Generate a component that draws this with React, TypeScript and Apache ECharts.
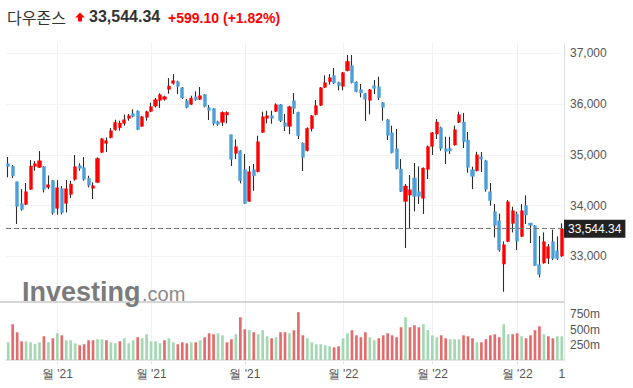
import { useEffect, useRef } from 'react';
import * as echarts from 'echarts';

const titleName = '다우존스';
const lastPrice = 33544.34;
const priceChange = 599.1;
const priceChangePct = 1.82;

const tradingMonths = ['2021-09', '2021-10', '2021-11', '2021-12', '2022-01', '2022-02', '2022-03'];
const tradingDays = [
  [16, 17, 20, 21, 22, 23, 24, 27, 28, 29, 30],
  [1, 4, 5, 6, 7, 8, 11, 12, 13, 14, 15, 18, 19, 20, 21, 22, 25, 26, 27, 28, 29],
  [1, 2, 3, 4, 5, 8, 9, 10, 11, 12, 15, 16, 17, 18, 19, 22, 23, 24, 26, 29, 30],
  [1, 2, 3, 6, 7, 8, 9, 10, 13, 14, 15, 16, 17, 20, 21, 22, 23, 27, 28, 29, 30, 31],
  [3, 4, 5, 6, 7, 10, 11, 12, 13, 14, 18, 19, 20, 21, 24, 25, 26, 27, 28, 31],
  [1, 2, 3, 4, 7, 8, 9, 10, 11, 14, 15, 16, 17, 18, 22, 23, 24, 25, 28],
  [1, 2, 3, 4, 7, 8, 9, 10, 11, 14, 15],
];

const monthLabels = ["월 '21", "월 '21", "월 '21", "월 '22", "월 '22", "월 '22"];
const endLabel = '1';
const priceTicks = [33000, 34000, 35000, 36000, 37000];
const volumeTicks = [250, 500, 750];

const opens = [
  34825, 34772, 34470, 34037, 34024, 34319, 34772, 34752, 34765, 34358, 34490,
  33945, 34333, 34043, 34221, 34516, 34785, 34746, 34536, 34339, 34457, 35047, 35224, 35336, 35494, 35533, 35618, 35717, 35808, 35861, 35559, 35736,
  35854, 35959, 36071, 36091, 36288, 36406, 36438, 36320, 36064, 35992, 36143, 36091, 36182, 35926, 35907, 35651, 35638, 35782, 35396, 35028, 35080,
  34706, 34083, 34706, 34667, 35441, 35717, 35769, 35854, 35985, 35631, 35559, 36064, 35835, 35231, 35080, 35513, 35789, 35972, 36327, 36438, 36557, 36425,
  36347, 36655, 36753, 36432, 36281, 36202, 36071, 36360, 36340, 36026, 35690, 35434, 35120, 34719, 34083, 34207, 34542, 34273, 34142, 34713,
  35165, 35408, 35533, 35120, 35126, 35192, 35638, 35644, 35290, 34706, 34686, 34962, 34883, 34273, 33880, 33703, 32849, 33295, 33650,
  33833, 33394, 33998, 33657, 33604, 32836, 32869, 32961, 33289, 33112, 33007,
];
const closes = [
  34772, 34588, 33984, 33925, 34273, 34778, 34825, 34883, 34319, 34411, 33859,
  34352, 33860, 34333, 34424, 34765, 34733, 34516, 34398, 34391, 34929, 35316, 35277, 35474, 35638, 35625, 35690, 35769, 35756, 35500, 35749, 35848,
  35946, 36084, 36182, 36143, 36353, 36458, 36346, 36117, 35933, 36117, 36084, 36163, 35953, 35874, 35618, 35599, 35835, 35835, 34910, 35159, 34490,
  34043, 34667, 34588, 35257, 35749, 35769, 35717, 35985, 35671, 35559, 35946, 35913, 35375, 34949, 35520, 35769, 35966, 36320, 36419, 36517, 36412, 36360,
  36616, 36839, 36419, 36242, 36215, 36091, 36281, 36307, 36123, 35933, 35382, 35040, 34726, 34279, 34385, 34312, 34181, 34181, 34739, 35159,
  35434, 35644, 35126, 35067, 35074, 35494, 35789, 35257, 34752, 34575, 35001, 34912, 34319, 34096, 33611, 33125, 33230, 34076, 33899,
  33295, 33899, 33814, 33611, 32823, 32646, 33289, 33190, 32961, 32961, 33544.34,
];
const highs = [
  34956, 34798, 34470, 34325, 34444, 34896, 34877, 35073, 34780, 34594, 34502,
  34502, 34385, 34502, 34490, 34995, 34831, 34956, 34588, 34457, 34949, 35329, 35342, 35526, 35690, 35671, 35789, 35802, 35894, 35874, 35762, 35868,
  36025, 36117, 36209, 36163, 36511, 36589, 36458, 36333, 36097, 36163, 36248, 36334, 36196, 35979, 35920, 35671, 35854, 35854, 35396, 35303, 35090,
  35015, 34778, 34818, 35375, 35848, 35868, 35868, 36012, 35999, 35802, 35966, 36215, 35848, 35244, 35540, 35782, 36077, 36333, 36563, 36589, 36708, 36438,
  36629, 36964, 36964, 36445, 36393, 36215, 36294, 36471, 36537, 36040, 35703, 35572, 35507, 34916, 34424, 34601, 34837, 34772, 34752, 35179,
  35448, 35703, 35553, 35356, 35356, 35572, 35848, 35822, 35448, 34765, 35060, 35054, 34900, 34444, 34030, 33840, 33295, 34109, 33978,
  33879, 34030, 34201, 33657, 33617, 33400, 33472, 33243, 33525, 33394, 33650,
];
const lows = [
  34556, 34542, 33637, 33899, 34010, 34310, 34686, 34740, 34260, 34325, 33820,
  33820, 33826, 33866, 34150, 34490, 34686, 34490, 34358, 34129, 34444, 35034, 35054, 35323, 35474, 35474, 35572, 35671, 35736, 35487, 35553, 35671,
  35841, 35933, 35920, 36064, 36202, 36379, 36196, 36097, 35914, 35979, 36064, 36078, 35933, 35684, 35579, 35572, 35566, 35618, 34778, 34916, 34438,
  34030, 34070, 34293, 34654, 35428, 35618, 35612, 35841, 35645, 35467, 35409, 35802, 35310, 34680, 35067, 35461, 35776, 35959, 36314, 36379, 36393, 36268,
  36268, 36642, 36406, 36230, 36130, 35664, 35795, 36196, 36077, 35671, 35290, 35027, 34713, 34266, 33164, 33551, 33886, 34030, 33834, 34523,
  34995, 35310, 35080, 34818, 35015, 35179, 35625, 35133, 34647, 34325, 34673, 34660, 34273, 33998, 33374, 33092, 32304, 33280, 33472,
  33125, 33380, 33637, 33263, 32810, 32587, 32856, 32849, 32928, 32931, 32990,
];

const volumesM = [
  290, 586, 455, 307, 307, 290, 263, 290, 389, 290, 356,
  438, 405, 323, 323, 274, 241, 258, 323, 323, 340, 340, 323, 290, 274, 307, 356, 274, 323, 373, 356, 422,
  307, 307, 274, 323, 356, 290, 258, 290, 274, 290, 290, 323, 373, 438, 422, 438, 405, 290, 340, 422, 701,
  504, 488, 455, 422, 488, 389, 356, 373, 455, 455, 438, 488, 784, 405, 356, 290, 258, 258, 241, 225, 208, 225,
  356, 438, 488, 405, 373, 455, 373, 323, 356, 405, 438, 405, 373, 537, 701, 537, 570, 537, 586, 488,
  405, 373, 405, 356, 340, 340, 340, 405, 389, 356, 290, 290, 340, 405, 422, 373, 586, 422, 422,
  438, 389, 356, 405, 488, 553, 422, 389, 356, 389, 389,
];
const volumeSides = [
  'g', 'r', 'r', 'r', 'g', 'g', 'g', 'g', 'r', 'g', 'r',
  'g', 'r', 'g', 'g', 'g', 'r', 'r', 'r', 'r', 'g', 'g', 'r', 'g', 'g', 'r', 'g', 'g', 'g', 'r', 'g', 'g',
  'g', 'g', 'g', 'r', 'g', 'g', 'r', 'r', 'r', 'g', 'r', 'g', 'r', 'r', 'r', 'g', 'g', 'r', 'r', 'g', 'r',
  'r', 'g', 'r', 'g', 'g', 'g', 'r', 'g', 'r', 'r', 'g', 'r', 'r', 'r', 'g', 'g', 'g', 'g', 'g', 'g', 'r', 'r',
  'g', 'g', 'r', 'r', 'r', 'r', 'g', 'g', 'r', 'r', 'r', 'r', 'r', 'r', 'g', 'r', 'r', 'r', 'g', 'g',
  'g', 'g', 'r', 'r', 'g', 'g', 'g', 'r', 'r', 'r', 'g', 'r', 'r', 'r', 'r', 'r', 'g', 'g', 'r',
  'r', 'g', 'r', 'r', 'r', 'r', 'g', 'r', 'r', 'g', 'g',
];

const UP = '#ff0000';
const DOWN = '#4c9fd9';
const WICK = '#2b2b2b';
const VOL_RED = '#e46c6c';
const VOL_GREEN = '#a3d8b3';
const AXIS_TEXT = '#555555';
const LATIN = "'Liberation Sans', Arial, sans-serif";

export default function App() {
  const ref = useRef<HTMLDivElement>(null);

  useEffect(() => {
    if (!ref.current) return;
    const chart = echarts.init(ref.current, null, { renderer: 'svg' });

    const categories: string[] = [];
    const labelMap = new Map<number, string>();
    tradingMonths.forEach((m, mi) => {
      tradingDays[mi].forEach((d, di) => {
        if (mi > 0 && di === 0) labelMap.set(categories.length, monthLabels[mi - 1]);
        categories.push(`${m}-${String(d).padStart(2, '0')}`);
      });
    });
    const lastIdx = categories.length - 1;
    const gridSet = new Set(labelMap.keys());
    labelMap.set(lastIdx, endLabel);

    const wickData = opens.map((o, i) => [o, closes[i], lows[i], highs[i]]);
    const bodyData = opens.map((o, i) => [o, closes[i], Math.min(o, closes[i]), Math.max(o, closes[i])]);
    const volData = volumesM.map((v, i) => ({
      value: v,
      itemStyle: { color: volumeSides[i] === 'r' ? VOL_RED : VOL_GREEN },
    }));

    const fmt = (n: number, d = 0) =>
      n.toLocaleString('en-US', { minimumFractionDigits: d, maximumFractionDigits: d });

    const option: any = {
      animation: false,
      backgroundColor: '#ffffff',
      grid: [
        { left: 6, right: 69, top: 43, height: 264.2 },
        { left: 6, right: 69, top: 299, height: 61 },
      ],
      xAxis: [
        {
          type: 'category',
          gridIndex: 0,
          data: categories,
          boundaryGap: true,
          axisLine: { show: false },
          axisTick: { show: false },
          axisLabel: { show: false },
          splitLine: {
            show: true,
            alignWithLabel: true,
            interval: (i: number) => gridSet.has(i),
            lineStyle: { color: '#f1f1f1', width: 1 },
          },
        },
        {
          type: 'category',
          gridIndex: 1,
          data: categories,
          boundaryGap: true,
          axisLine: { show: true, lineStyle: { color: '#d9dce3', width: 1.5 } },
          axisTick: {
            show: true,
            alignWithLabel: true,
            length: 5,
            interval: (i: number) => gridSet.has(i),
            lineStyle: { color: '#e6e6e6' },
          },
          axisLabel: {
            show: true,
            interval: (i: number) => labelMap.has(i),
            formatter: (_v: string, i: number) => labelMap.get(i) ?? '',
            color: AXIS_TEXT,
            fontSize: 12,
            fontFamily: LATIN,
            margin: 8,
          },
          splitLine: {
            show: true,
            alignWithLabel: true,
            interval: (i: number) => gridSet.has(i),
            lineStyle: { color: '#f1f1f1', width: 1 },
          },
        },
      ],
      yAxis: [
        {
          type: 'value',
          gridIndex: 0,
          position: 'right',
          min: 32000,
          max: 37200,
          interval: 1000,
          axisLine: { show: true, lineStyle: { color: '#dfe2e8' } },
          axisTick: { show: false },
          axisLabel: {
            color: AXIS_TEXT,
            fontSize: 12,
            fontFamily: LATIN,
            margin: 6,
            formatter: (v: number) => (priceTicks.includes(v) ? fmt(v) : ''),
          },
          splitLine: { show: false },
        },
        {
          type: 'value',
          gridIndex: 1,
          position: 'right',
          min: 0,
          max: 1000,
          interval: 250,
          axisLine: { show: true, lineStyle: { color: '#dfe2e8' } },
          axisTick: { show: false },
          axisLabel: {
            color: AXIS_TEXT,
            fontSize: 12,
            fontFamily: LATIN,
            margin: 6,
            formatter: (v: number) => (volumeTicks.includes(v) ? `${v}m` : ''),
          },
          splitLine: { show: false },
        },
      ],
      series: [
        {
          type: 'candlestick',
          name: 'wick',
          xAxisIndex: 0,
          yAxisIndex: 0,
          data: wickData,
          barWidth: 0.2,
          itemStyle: {
            color: WICK,
            color0: WICK,
            borderColor: WICK,
            borderColor0: WICK,
            borderWidth: 1.1,
          },
          silent: true,
          markLine: {
            silent: true,
            z: 1,
            symbol: ['none', 'none'],
            data: priceTicks.map((v) => ({ yAxis: v })),
            lineStyle: { type: 'solid', color: '#f3f3f3', width: 1 },
            label: { show: false },
            emphasis: { disabled: true },
          },
        },
        {
          type: 'candlestick',
          name: '다우존스',
          xAxisIndex: 0,
          yAxisIndex: 0,
          data: bodyData,
          barWidth: 3.6,
          itemStyle: {
            color: UP,
            color0: DOWN,
            borderColor: UP,
            borderColor0: DOWN,
            borderWidth: 0.4,
          },
          silent: true,
          markLine: {
            silent: true,
            symbol: ['none', 'none'],
            data: [{ yAxis: lastPrice }],
            lineStyle: { type: [5, 3], color: '#777777', width: 1.2 },
            label: {
              show: true,
              position: 'end',
              distance: 0,
              formatter: () => fmt(lastPrice, 2),
              backgroundColor: '#222222',
              color: '#ffffff',
              fontSize: 12,
              fontFamily: LATIN,
              padding: [3, 4, 3, 4],
            },
          },
        },
        {
          type: 'bar',
          name: 'volume',
          xAxisIndex: 1,
          yAxisIndex: 1,
          data: volData,
          barWidth: '60%',
          silent: true,
        },
      ],
      graphic: [
        {
          type: 'text',
          x: 7,
          y: 16.5,
          style: {
            text: titleName,
            fill: '#333333',
            font: "400 16px 'Noto Sans CJK KR', sans-serif",
            verticalAlign: 'middle',
            textVerticalAlign: 'middle',
          },
        },
        {
          type: 'polygon',
          shape: {
            points: [
              [80, 12.5],
              [84.8, 17.5],
              [82, 17.5],
              [82, 21.5],
              [78, 21.5],
              [78, 17.5],
              [75.2, 17.5],
            ],
          },
          style: { fill: UP },
        },
        {
          type: 'text',
          x: 89,
          y: 16.5,
          style: {
            text: fmt(lastPrice, 2),
            fill: '#333333',
            font: `bold 16px ${LATIN}`,
            verticalAlign: 'middle',
            textVerticalAlign: 'middle',
          },
        },
        {
          type: 'text',
          x: 168,
          y: 17.5,
          style: {
            text: `+${fmt(priceChange, 2)}`,
            fill: UP,
            font: `bold 14px ${LATIN}`,
            verticalAlign: 'middle',
            textVerticalAlign: 'middle',
          },
        },
        {
          type: 'text',
          x: 223,
          y: 17.5,
          style: {
            text: `(+${fmt(priceChangePct, 2)}%)`,
            fill: UP,
            font: `bold 14px ${LATIN}`,
            verticalAlign: 'middle',
            textVerticalAlign: 'middle',
          },
        },
        {
          type: 'line',
          shape: { x1: 0, y1: 302, x2: 564, y2: 302 },
          style: { stroke: '#c9c9c9', lineWidth: 1.5 },
          z: 1,
        },
        {
          type: 'text',
          x: 22,
          y: 291.6,
          z: 2,
          style: {
            text: 'Investing',
            fill: '#7b7b7b',
            font: `bold 27px ${LATIN}`,
            verticalAlign: 'middle',
            textVerticalAlign: 'middle',
          },
        },
        {
          type: 'text',
          x: 142,
          y: 294,
          z: 2,
          style: {
            text: '.com',
            fill: '#8a8a8a',
            font: `20px ${LATIN}`,
            verticalAlign: 'middle',
            textVerticalAlign: 'middle',
          },
        },
      ],
    };

    chart.setOption(option);
    return () => chart.dispose();
  }, []);

  return (
    <div
      ref={ref}
      style={{ position: 'fixed', left: 0, top: 0, width: 633, height: 388, background: '#ffffff' }}
    />
  );
}
